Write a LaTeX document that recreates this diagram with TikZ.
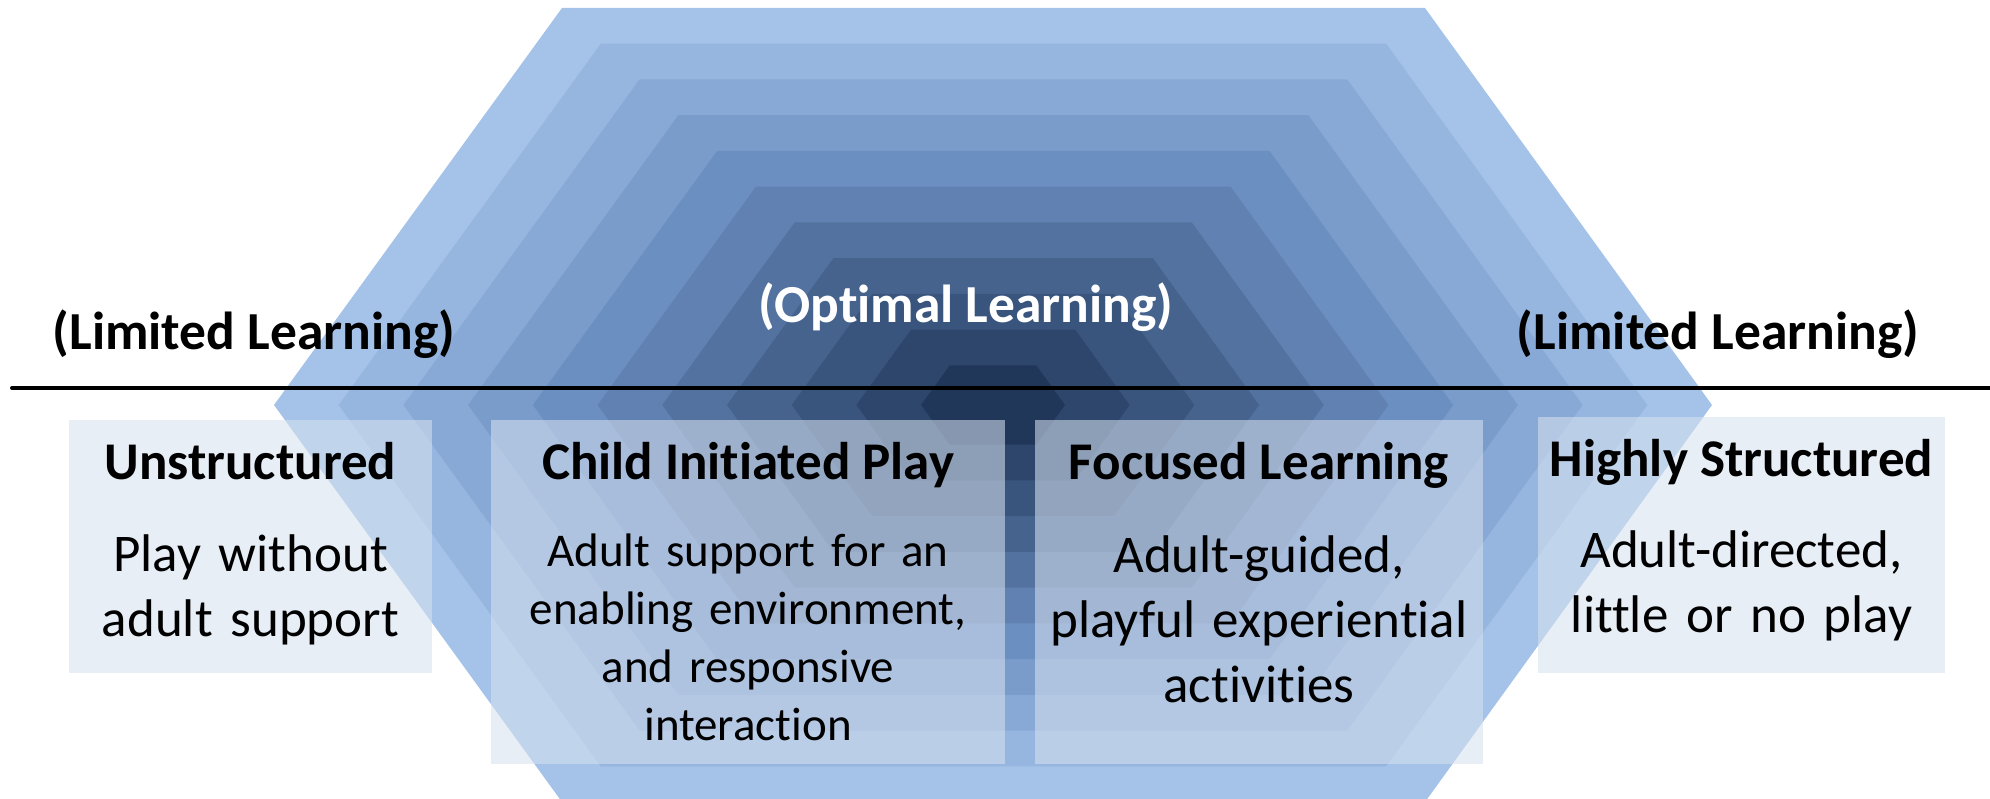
\documentclass[tikz,border=0pt]{standalone}
\usepackage{fontspec}
\setmainfont{Carlito}[Ligatures=NoCommon]
\usetikzlibrary{positioning,calc}

\definecolor{hexout}{RGB}{165,195,232}
\definecolor{hexmid}{RGB}{108,143,194}
\definecolor{hexin}{RGB}{33,55,90}
\definecolor{panelfill}{RGB}{214,225,240}

\begin{document}
\begin{tikzpicture}[
    x=1pt, y=-1pt,
    panel/.style={rectangle, fill=panelfill, fill opacity=0.57, inner sep=0pt},
    heading/.style={font=\fontsize{53}{64}\selectfont\bfseries, anchor=base, inner sep=0pt},
    body/.style={font=\fontsize{53}{65}\selectfont, align=center, text width=#1, anchor=base, inner sep=0pt},
    zone/.style={font=\fontsize{53.5}{64}\selectfont\bfseries, anchor=base, inner sep=0pt}
]
    \useasboundingbox (0,0) rectangle (1990,799);

    % stepped hexagon, light rim to dark centre
    \foreach \k in {0,...,10} {
        \pgfmathsetmacro{\s}{1-0.09*\k}
        \ifnum\k<5
            \pgfmathtruncatemacro{\p}{100*\k/4}
            \colorlet{band}{hexmid!\p!hexout}
        \else
            \pgfmathtruncatemacro{\p}{100*(\k-4)/6}
            \colorlet{band}{hexin!\p!hexmid}
        \fi
        \fill[band, shift={(993,405)}, scale=\s]
            (-431,-397) -- (432,-397) -- (719,0) -- (432,397) -- (-431,397) -- (-719,0) -- cycle;
    }

    % dividing line
    \coordinate (lineW) at (12,388);
    \coordinate (lineE) at (1990,388);
    \draw[line width=4pt, line cap=round] (lineW) -- (lineE);

    % zone labels
    \node[zone] (limL) at (254,350) {(Limited Learning)};
    \node[zone] (limR) at (1718,350) {(Limited Learning)};
    \node[zone, text=white] (optimal) at (966,323) {(Optimal Learning)};

    % panels
    \node[panel, minimum width=363pt, minimum height=253pt] (unstr) at (250.5,546.5) {};
    \node[panel, minimum width=514pt, minimum height=344pt] (child) at (748,592) {};
    \node[panel, minimum width=448pt, minimum height=344pt] (focus) at (1259,592) {};
    \node[panel, minimum width=407pt, minimum height=256pt] (struct) at (1741.5,545) {};

    % panel headings
    \node[heading] (unstrT) at ([yshift=-60pt]unstr.north) {Unstructured};
    \node[heading] (childT) at ([yshift=-60pt]child.north) {Child Initiated Play};
    \node[heading] (focusT) at ([yshift=-60pt]focus.north) {Focused Learning};
    \node[heading] (structT) at ([yshift=-60pt]struct.north) {Highly Structured};

    % panel texts
    \node[body=340pt] (unstrB) at ([yshift=-92pt]unstrT.base) {Play without\\adult support};
    \node[body=490pt, font=\fontsize{47}{58}\selectfont] (childB) at ([yshift=-87pt]childT.base)
        {Adult support for an\\enabling environment,\\and responsive\\interaction};
    \node[body=430pt] (focusB) at ([yshift=-93pt]focusT.base) {Adult-guided,\\playful experiential\\activities};
    \node[body=390pt] (structB) at ([yshift=-91pt]structT.base) {Adult-directed,\\little or no play};
\end{tikzpicture}
\end{document}
